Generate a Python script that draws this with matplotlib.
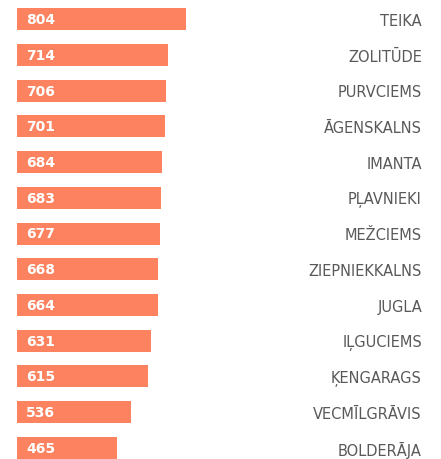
import matplotlib.pyplot as plt

names = ["TEIKA", "ZOLITŪDE", "PURVCIEMS", "ĀGENSKALNS", "IMANTA", "PĻAVNIEKI",
         "MEŽCIEMS", "ZIEPNIEKKALNS", "JUGLA", "IĻGUCIEMS", "ĶENGARAGS",
         "VECMĪLGRĀVIS", "BOLDERĀJA"]
values = [804, 714, 706, 701, 684, 683, 677, 668, 664, 631, 615, 536, 465]

bar_color = "#fd8360"
text_color = "#595959"

fig = plt.figure(figsize=(4.41, 4.60), dpi=100)
ax = fig.add_axes([0, 0, 1, 1])

# value 0 sits at ~22px, bars start a bit left of it at 17px
px_per_unit = (186 - 117) / (804 - 465)
zero_px = 186 - 804 * px_per_unit
ax.set_xlim(-zero_px / px_per_unit, (441 - zero_px) / px_per_unit)
base = (17 - zero_px) / px_per_unit

pitch = 35.75
top = 20
ax.set_ylim((460 - top) / pitch, -top / pitch)

pos = list(range(len(names)))
ax.barh(pos, [v - base for v in values], height=22 / pitch,
        color=bar_color, left=base)

label_x = (422 - zero_px) / px_per_unit
val_x = (26 - zero_px) / px_per_unit
for i, (n, v) in enumerate(zip(names, values)):
    ax.text(val_x, i, str(v), color="white", fontweight="bold",
            fontsize=10, va="center", ha="left")
    ax.text(label_x, i + 0.04, n, color=text_color, fontsize=10.5,
            va="center", ha="right")

ax.axis("off")
fig.savefig("out.png", dpi=100)
